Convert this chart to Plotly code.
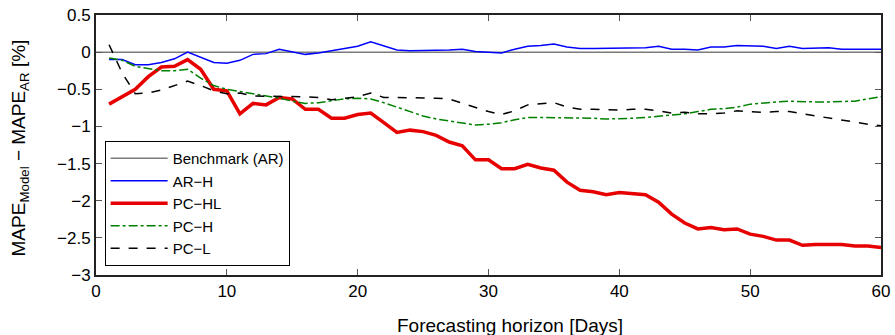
import plotly.graph_objects as go

days = list(range(1, 61))

bench_x = [0, 60]
bench_y = [0, 0]

ar_h = [-0.10, -0.10, -0.17, -0.17, -0.14, -0.09, 0.00, -0.07, -0.14, -0.15,
        -0.11, -0.03, -0.02, 0.04, 0.01, -0.03, -0.01, 0.02, 0.06, 0.08,
        0.14, 0.08, 0.03, 0.02, 0.02, 0.03, 0.03, 0.04, 0.01, 0.00,
        -0.01, 0.04, 0.08, 0.09, 0.11, 0.07, 0.05, 0.05, 0.05, 0.06,
        0.06, 0.06, 0.08, 0.04, 0.04, 0.03, 0.07, 0.07, 0.09, 0.09,
        0.08, 0.05, 0.08, 0.05, 0.06, 0.06, 0.04, 0.04, 0.04, 0.04]

pc_hl = [-0.70, -0.60, -0.50, -0.33, -0.20, -0.19, -0.10, -0.23, -0.50, -0.52,
         -0.83, -0.69, -0.71, -0.61, -0.63, -0.77, -0.77, -0.89, -0.89, -0.84,
         -0.82, -0.95, -1.08, -1.05, -1.07, -1.12, -1.21, -1.26, -1.45, -1.45,
         -1.57, -1.57, -1.51, -1.56, -1.59, -1.75, -1.86, -1.88, -1.92, -1.89,
         -1.90, -1.92, -2.02, -2.18, -2.30, -2.38, -2.36, -2.39, -2.38, -2.45,
         -2.48, -2.53, -2.53, -2.60, -2.59, -2.59, -2.59, -2.61, -2.61, -2.63]

pc_h = [-0.08, -0.11, -0.19, -0.22, -0.25, -0.25, -0.23, -0.35, -0.45, -0.50,
        -0.53, -0.56, -0.59, -0.62, -0.66, -0.69, -0.68, -0.65, -0.63, -0.62,
        -0.63, -0.68, -0.74, -0.80, -0.86, -0.90, -0.93, -0.96, -0.98, -0.97,
        -0.95, -0.91, -0.88, -0.88, -0.88, -0.88, -0.89, -0.89, -0.90, -0.90,
        -0.89, -0.88, -0.86, -0.85, -0.83, -0.80, -0.77, -0.76, -0.74, -0.70,
        -0.68, -0.67, -0.66, -0.67, -0.67, -0.67, -0.67, -0.66, -0.63, -0.60]

pc_l = [0.10, -0.28, -0.56, -0.55, -0.51, -0.45, -0.39, -0.45, -0.52, -0.56,
        -0.55, -0.59, -0.59, -0.59, -0.60, -0.60, -0.61, -0.64, -0.62, -0.60,
        -0.55, -0.61, -0.61, -0.61, -0.62, -0.62, -0.63, -0.69, -0.75, -0.80,
        -0.84, -0.79, -0.71, -0.69, -0.68, -0.74, -0.77, -0.77, -0.78, -0.78,
        -0.77, -0.77, -0.79, -0.82, -0.81, -0.83, -0.83, -0.82, -0.79, -0.80,
        -0.81, -0.80, -0.80, -0.83, -0.86, -0.89, -0.92, -0.94, -0.97, -0.99]

x_ticks = [0, 10, 20, 30, 40, 50, 60]
y_ticks = [-3, -2.5, -2, -1.5, -1, -0.5, 0, 0.5]

x_title = "Forecasting horizon [Days]"
y_title = "MAPE<sub>Model</sub> \u2212 MAPE<sub>AR</sub> [%]"

FONT = "Liberation Sans, Arial, Helvetica, sans-serif"

fig = go.Figure()
fig.add_trace(go.Scatter(x=bench_x, y=bench_y, mode="lines", name="Benchmark (AR)",
                         line=dict(color="#7a7a7a", width=1.5)))
fig.add_trace(go.Scatter(x=days, y=ar_h, mode="lines", name="AR\u2212H",
                         line=dict(color="#0000ff", width=1.5)))
fig.add_trace(go.Scatter(x=days, y=pc_hl, mode="lines", name="PC\u2212HL",
                         line=dict(color="#e60000", width=3.5)))
fig.add_trace(go.Scatter(x=days, y=pc_h, mode="lines", name="PC\u2212H",
                         line=dict(color="#008000", width=1.5, dash="dashdot")))
fig.add_trace(go.Scatter(x=days, y=pc_l, mode="lines", name="PC\u2212L",
                         line=dict(color="black", width=1.5, dash="dash")))

axis_common = dict(ticks="inside", ticklen=6, tickcolor="#555", tickwidth=1,
                   showline=True, linecolor="#222", linewidth=2,
                   mirror="allticks", showgrid=False, zeroline=False,
                   tickfont=dict(size=17, color="black"))

fig.update_layout(
    width=895, height=335,
    margin=dict(l=96, r=14, t=15, b=60, autoexpand=False),
    paper_bgcolor="white", plot_bgcolor="white",
    font=dict(family=FONT, size=15, color="black"),
    showlegend=True,
    legend=dict(x=0.011, y=0.035, xanchor="left", yanchor="bottom",
                bgcolor="white", bordercolor="black", borderwidth=1,
                font=dict(size=15), tracegroupgap=0, itemwidth=57),
    xaxis=dict(range=[0, 60], tickvals=x_ticks, **axis_common),
    yaxis=dict(range=[-3, 0.5], tickvals=y_ticks, **axis_common),
    annotations=[
        dict(text=x_title, xref="paper", yref="paper", x=0.527, y=-0.193,
             xanchor="center", yanchor="middle", showarrow=False,
             font=dict(size=19)),
        dict(text=y_title, xref="paper", yref="paper", x=-0.097, y=0.49,
             xanchor="center", yanchor="middle", showarrow=False, textangle=-90,
             font=dict(size=19)),
    ],
)

fig.write_html("out.html", config={"displayModeBar": False},
               post_script="document.body.style.margin='0';document.body.style.overflow='hidden';")
